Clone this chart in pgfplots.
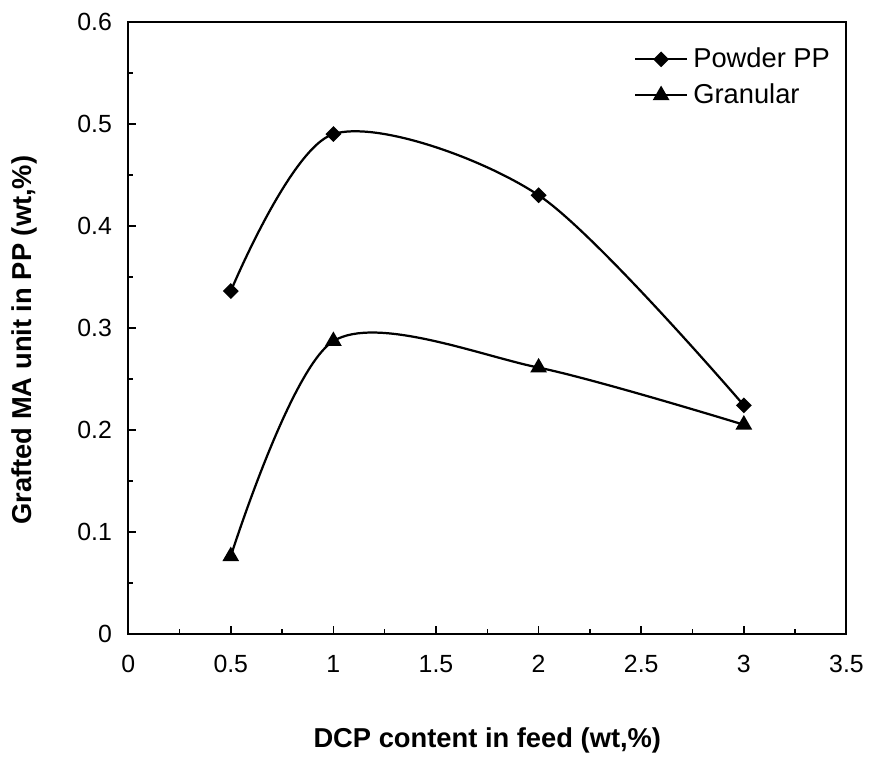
\documentclass[border=0pt]{standalone}
\usepackage{fontspec}
\setmainfont{Liberation Sans}
\usepackage{pgfplots}
\pgfplotsset{compat=1.18}

\begin{document}
\begin{tikzpicture}
  \begin{axis}[
    name=ax,
    scale only axis,
    width=289.2pt, height=246.4pt,
    xmin=0, xmax=3.5, ymin=0, ymax=0.6,
    xtick={0,0.5,...,3.5}, ytick={0,0.1,...,0.6},
    minor x tick num=1, minor y tick num=1,
    xtick pos=bottom, ytick pos=left,
    tick align=inside,
    major tick length=3.2pt, minor tick length=2pt,
    axis line style={line width=0.8pt},
    every tick/.style={black, line width=0.6pt},
    /pgf/number format/assume math mode=true,
    /pgf/number format/fixed,
    ticklabel style={font=\fontsize{10}{12}\selectfont},
    yticklabel style={xshift=-3pt},
    xticklabel style={yshift=-5pt},
    xlabel={\textbf{DCP content in feed (wt,\%)}},
    ylabel={\textbf{Grafted MA unit in PP (wt,\%)}},
    xlabel style={font=\fontsize{11}{13}\selectfont, at={(axis description cs:0.5,-0.174)}, anchor=center},
    ylabel style={font=\fontsize{11}{13}\selectfont, at={(axis description cs:-0.144,0.48)}, anchor=center},
    legend style={draw=none, fill=none, at={(0.995,0.975)}, anchor=north east,
      font=\fontsize{11}{13}\selectfont, row sep=1pt},
    legend cell align=left,
    legend image code/.code={
      \draw[mark repeat=2, mark phase=2, #1] plot coordinates {(0pt,0pt) (10.5pt,0pt) (21pt,0pt)};
    },
  ]
    \addplot[black, line width=0.9pt, smooth, tension=0.5,
      mark=square*, mark size=1.8pt, mark options={rotate=45, solid}]
      coordinates {(0.5,0.336) (1,0.490) (2,0.430) (3,0.224)};
    \addlegendentry{Powder PP}
    \addplot[black, line width=0.9pt, smooth, tension=0.5,
      mark=triangle*, mark size=3pt, mark options={solid}]
      coordinates {(0.5,0.076) (1,0.287) (2,0.261) (3,0.205)};
    \addlegendentry{Granular}
  \end{axis}
  \path (ax.south west) ++(-51.6pt,-53.2pt);
  \path (ax.north east) ++(8pt,8.8pt);
\end{tikzpicture}
\end{document}
